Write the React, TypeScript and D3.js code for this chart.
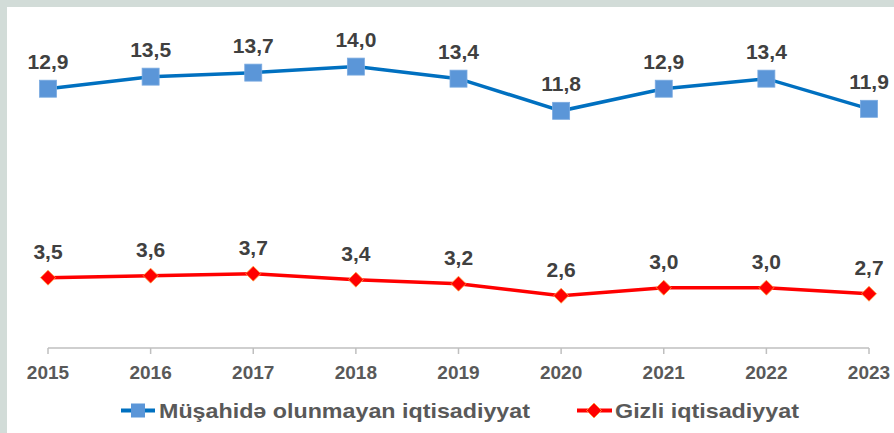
import React from "react";
import * as d3 from "d3";

const years = ["2015", "2016", "2017", "2018", "2019", "2020", "2021", "2022", "2023"];
const observedValues = [12.9, 13.5, 13.7, 14.0, 13.4, 11.8, 12.9, 13.4, 11.9];
const shadowValues = [3.5, 3.6, 3.7, 3.4, 3.2, 2.6, 3.0, 3.0, 2.7];
const seriesNames = ["Müşahidə olunmayan iqtisadiyyat", "Gizli iqtisadiyyat"];

const W = 894;
const H = 433;
const FONT = "'Liberation Sans', Arial, sans-serif";

export default function App() {
  const x = d3.scalePoint<string>().domain(years).range([48, 869]);
  const y = d3.scaleLinear().domain([0, 16]).range([348, 26.4]);
  const line = d3
    .line<number>()
    .x((_, i) => x(years[i]) as number)
    .y((v) => y(v));
  const fmt = (v: number) => v.toFixed(1).replace(".", ",");
  const diamond = (cx: number, cy: number, r: number) =>
    `M${cx},${cy - r}L${cx + r},${cy}L${cx},${cy + r}L${cx - r},${cy}Z`;

  return (
    <svg
      width={W}
      height={H}
      style={{ position: "fixed", left: 0, top: 0, display: "block" }}
      fontFamily={FONT}
    >
      <rect x={0} y={0} width={W} height={H} fill="#d2dcd8" />
      <rect x={7} y={7} width={W - 7} height={H - 7} fill="#ffffff" />

      {/* axis */}
      <line x1={x(years[0])} x2={x(years[years.length - 1])} y1={348} y2={348} stroke="#bfbfbf" strokeWidth={1.5} />
      {years.map((yr) => (
        <g key={yr}>
          <line x1={x(yr)} x2={x(yr)} y1={348} y2={354} stroke="#bfbfbf" strokeWidth={1.5} />
          <text x={x(yr)} y={379} textAnchor="middle" fontSize={19} fontWeight="bold" fill="#595959">
            {yr}
          </text>
        </g>
      ))}

      {/* blue series */}
      <path d={line(observedValues) || ""} fill="none" stroke="#0070C0" strokeWidth={3.5} />
      {observedValues.map((v, i) => (
        <g key={"o" + i}>
          <rect
            x={(x(years[i]) as number) - 8.5}
            y={y(v) - 8.5}
            width={17}
            height={17}
            fill="#5B96D8"
            stroke="#7aaae0"
            strokeWidth={0.8}
          />
          <text x={x(years[i])} y={y(v) - 20} textAnchor="middle" fontSize={21} fontWeight="bold" fill="#404040">
            {fmt(v)}
          </text>
        </g>
      ))}

      {/* red series */}
      <path d={line(shadowValues) || ""} fill="none" stroke="#FF0000" strokeWidth={3.5} />
      {shadowValues.map((v, i) => (
        <g key={"s" + i}>
          <path d={diamond(x(years[i]) as number, y(v), 7.5)} fill="#FF0000" stroke="#FFA040" strokeWidth={0.8} />
          <text x={x(years[i])} y={y(v) - 18.5} textAnchor="middle" fontSize={21} fontWeight="bold" fill="#404040">
            {fmt(v)}
          </text>
        </g>
      ))}

      {/* legend */}
      <line x1={121} x2={155} y1={410.5} y2={410.5} stroke="#0070C0" strokeWidth={4} />
      <rect x={131} y={403.5} width={14} height={14} fill="#5B96D8" />
      <text x={159} y={417.5} fontSize={21} fontWeight="bold" fill="#595959" textLength={371} lengthAdjust="spacingAndGlyphs">
        {seriesNames[0]}
      </text>
      <line x1={577} x2={612} y1={410.5} y2={410.5} stroke="#FF0000" strokeWidth={4} />
      <path d={diamond(594, 410.5, 7.5)} fill="#FF0000" stroke="#FFA040" strokeWidth={0.8} />
      <text x={615} y={417.5} fontSize={21} fontWeight="bold" fill="#595959" textLength={184} lengthAdjust="spacingAndGlyphs">
        {seriesNames[1]}
      </text>
    </svg>
  );
}
